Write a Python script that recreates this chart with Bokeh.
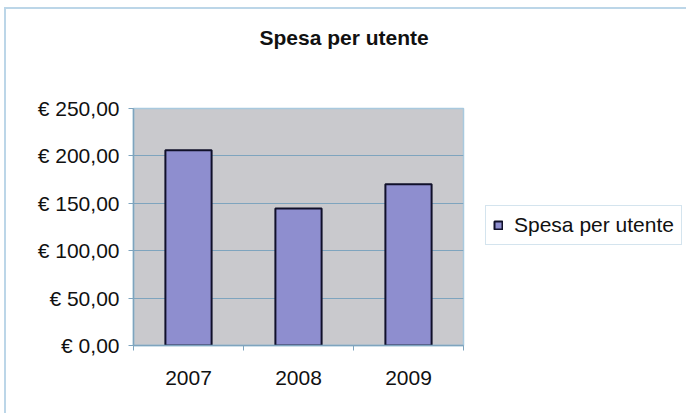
from bokeh.plotting import figure
from bokeh.models import (ColumnDataSource, Range1d, FixedTicker, Legend, LegendItem, Title)
from bokeh.embed import file_html
from bokeh.resources import INLINE

# ---- data ----
categories = ["2007", "2008", "2009"]
spesa = [206.0, 144.5, 170.0]
series_name = "Spesa per utente"
title_text = "Spesa per utente"
y_ticks = [0, 50, 100, 150, 200, 250]
y_tick_labels = ["€ 0,00", "€ 50,00", "€ 100,00", "€ 150,00", "€ 200,00", "€ 250,00"]

FONT = "Liberation Sans"
GRID = "#7ea4be"
BLUE_LINE = "#a9c9de"

x_pos = [i + 0.5 for i in range(len(categories))]
source = ColumnDataSource(data=dict(x=x_pos, top=spesa, year=categories))

p = figure(frame_width=330, frame_height=237, output_backend="svg", toolbar_location=None,
           x_range=Range1d(0, len(categories)), y_range=Range1d(0, 250),
           min_border_left=127, min_border_right=0, min_border_top=99, min_border_bottom=68,
           background_fill_color="#c9c9cd", border_fill_color="white")

p.outline_line_color = BLUE_LINE
p.outline_line_width = 1.5

r = p.vbar(x="x", top="top", width=0.42, bottom=0, source=source,
           fill_color="#8e8ecf", line_color="#10102a", line_width=2)

# x axis: labels at category centres, tick marks at category boundaries
p.xaxis.ticker = FixedTicker(ticks=x_pos, minor_ticks=list(range(len(categories) + 1)))
p.xaxis.major_label_overrides = {x: c for x, c in zip(x_pos, categories)}
p.xaxis.major_tick_line_color = None
p.xaxis.major_tick_out = 5
p.xaxis.major_tick_in = 0
p.xaxis.minor_tick_out = 5
p.xaxis.minor_tick_in = 0
p.xaxis.minor_tick_line_color = GRID
p.xaxis.axis_line_color = GRID
p.xaxis.axis_line_width = 1.5
p.xaxis.major_label_standoff = 20
p.xaxis.major_label_text_font = FONT
p.xaxis.major_label_text_font_size = "21px"
p.xaxis.major_label_text_color = "#111111"

# y axis
p.yaxis.ticker = FixedTicker(ticks=y_ticks, minor_ticks=[])
p.yaxis.major_label_overrides = {t: l for t, l in zip(y_ticks, y_tick_labels)}
p.yaxis.major_tick_out = 5
p.yaxis.major_tick_in = 0
p.yaxis.major_tick_line_color = GRID
p.yaxis.axis_line_color = GRID
p.yaxis.axis_line_width = 1.5
p.yaxis.major_label_standoff = 9
p.yaxis.major_label_text_font = FONT
p.yaxis.major_label_text_font_size = "21px"
p.yaxis.major_label_text_color = "#111111"

p.xgrid.grid_line_color = None
p.ygrid.grid_line_color = GRID
p.ygrid.grid_line_width = 1.2

# spacer between frame and title, then the title
spacer = Title(text=" ", standoff=57, text_font=FONT, text_font_size="1px")
p.add_layout(spacer, "above")
t = Title(text=title_text, align="left", offset=126, standoff=0,
          text_font=FONT, text_font_size="21px", text_font_style="bold", text_color="#111111")
p.add_layout(t, "above")

# legend
legend = Legend(items=[LegendItem(label=series_name, renderers=[r])],
                location=(22, 100), orientation="vertical",
                label_text_font=FONT, label_text_font_size="21px", label_text_color="#111111",
                glyph_width=10, glyph_height=10, label_standoff=11,
                padding=7, margin=0,
                border_line_color=BLUE_LINE, border_line_width=1.5,
                background_fill_color="white", background_fill_alpha=1.0)
p.add_layout(legend, "right")

p.styles = {"margin-left": "4px", "margin-top": "7px",
            "border-top": "2px solid #bcd6e8", "border-left": "2px solid #bcd6e8"}

open("out.html", "w").write(file_html(p, INLINE))
